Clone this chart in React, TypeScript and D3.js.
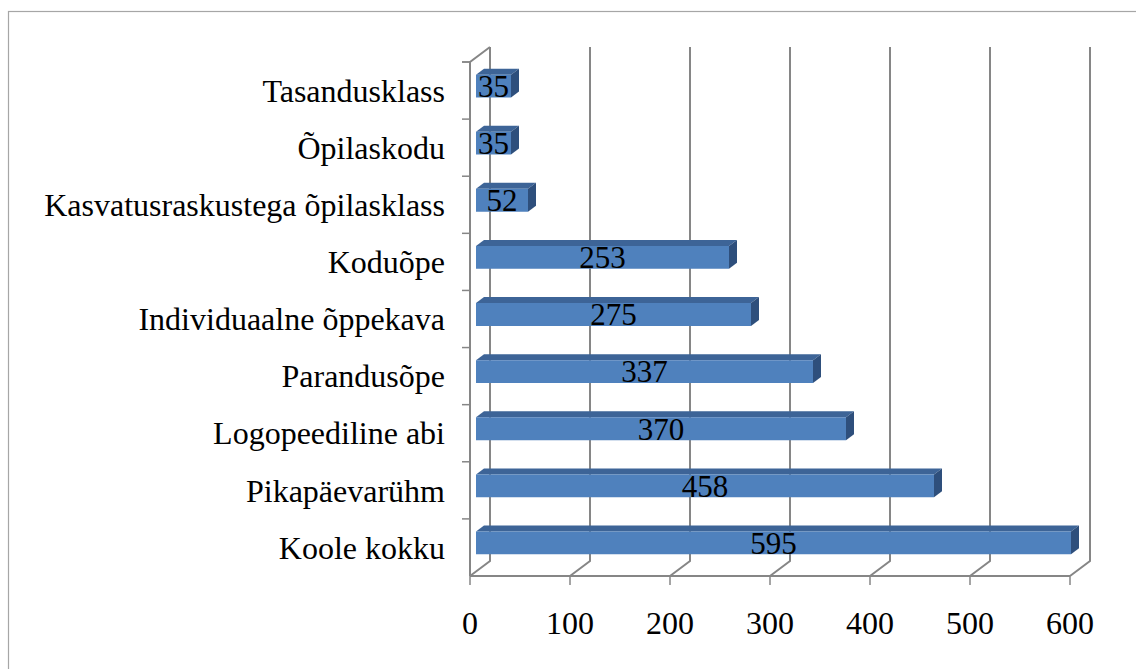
import React from "react";
import * as d3 from "d3";

const categories = [
  "Koole kokku",
  "Pikapäevarühm",
  "Logopeediline abi",
  "Parandusõpe",
  "Individuaalne õppekava",
  "Koduõpe",
  "Kasvatusraskustega õpilasklass",
  "Õpilaskodu",
  "Tasandusklass",
];
const values = [595, 458, 370, 337, 275, 253, 52, 35, 35];
const xTicks = [0, 100, 200, 300, 400, 500, 600];

const W = 1136;
const H = 669;
const X0 = 470;
const FLOOR_Y = 576;
const TOP_Y = 62;
const DX = 20;
const DY = -15;
const BF = 0.3; // bar front depth fraction
const BB = 0.7; // bar back depth fraction
const FONT = "'Times New Roman', 'Liberation Serif', serif";
const FS = 32;
const GRID = "#868686";

export default function App() {
  const x = d3.scaleLinear().domain([0, 600]).range([X0, X0 + 600]);
  const y = d3
    .scaleBand<string>()
    .domain(categories)
    .range([FLOOR_Y, TOP_Y])
    .paddingInner(0.6)
    .paddingOuter(0.3);
  const yBand = d3
    .scaleBand<string>()
    .domain(categories)
    .range([FLOOR_Y, TOP_Y])
    .padding(0);

  const fdx = DX * BF, fdy = DY * BF;
  const bdx = DX * BB, bdy = DY * BB;

  const bars = categories.map((c, i) => {
    const v = values[i];
    const x0 = x(0) + fdx;
    const x1 = x(v) + fdx;
    const yt = (y(c) as number) + fdy;
    const yb = yt + y.bandwidth();
    const ddx = bdx - fdx, ddy = bdy - fdy;
    const front = `M${x0},${yt}L${x1},${yt}L${x1},${yb}L${x0},${yb}Z`;
    const top = `M${x0},${yt}L${x0 + ddx},${yt + ddy}L${x1 + ddx},${yt + ddy}L${x1},${yt}Z`;
    const side = `M${x1},${yt}L${x1 + ddx},${yt + ddy}L${x1 + ddx},${yb + ddy}L${x1},${yb}Z`;
    return { c, v, front, top, side, cx: (x0 + x1) / 2, cy: (yt + yb) / 2 };
  });

  const bandEdges = categories.map((c) => yBand(c) as number).concat([TOP_Y]);

  return (
    <svg
      width={W}
      height={H}
      style={{ position: "absolute", left: 0, top: 0, background: "#fff" }}
    >
      <rect x={8.5} y={11.5} width={1200} height={800} fill="#fff" stroke="#a6a6a6" strokeWidth={1.2} />
      {xTicks.map((t) => (
        <g key={t}>
          <path
            d={`M${x(t) + DX},${TOP_Y + DY}L${x(t) + DX},${FLOOR_Y + DY}L${x(t)},${FLOOR_Y}`}
            fill="none"
            stroke={GRID}
            strokeWidth={2}
          />
          <line x1={x(t)} x2={x(t)} y1={FLOOR_Y} y2={FLOOR_Y + 9} stroke={GRID} strokeWidth={1.5} />
          <text x={x(t)} y={634} style={{ fontFamily: FONT, fontSize: FS }} textAnchor="middle" fill="#000">
            {t}
          </text>
        </g>
      ))}
      <path
        d={`M${X0},${FLOOR_Y}L${X0},${TOP_Y}L${X0 + DX},${TOP_Y + DY}`}
        fill="none"
        stroke={GRID}
        strokeWidth={2}
      />
      <line x1={X0} x2={x(600)} y1={FLOOR_Y} y2={FLOOR_Y} stroke={GRID} strokeWidth={2} />
      {bandEdges.map((e, i) => (
        <line key={i} x1={X0 - 8} x2={X0} y1={e} y2={e} stroke={GRID} strokeWidth={1.5} />
      ))}
      {categories.map((c) => (
        <text
          key={c}
          x={445}
          y={(yBand(c) as number) + yBand.bandwidth() / 2}
          dy="0.35em"
          style={{ fontFamily: FONT, fontSize: FS }}
          textAnchor="end"
          fill="#000"
        >
          {c}
        </text>
      ))}
      {bars.map((b) => (
        <g key={b.c}>
          <path d={b.top} fill="#3d6497" />
          <path d={b.side} fill="#2e4f7c" />
          <path d={b.front} fill="#4f81bd" />
        </g>
      ))}
      {bars.map((b) => (
        <text
          key={b.c}
          x={b.cx}
          y={b.cy}
          dy="0.35em"
          style={{ fontFamily: FONT, fontSize: FS - 1 }}
          textAnchor="middle"
          fill="#000"
        >
          {b.v}
        </text>
      ))}
    </svg>
  );
}
